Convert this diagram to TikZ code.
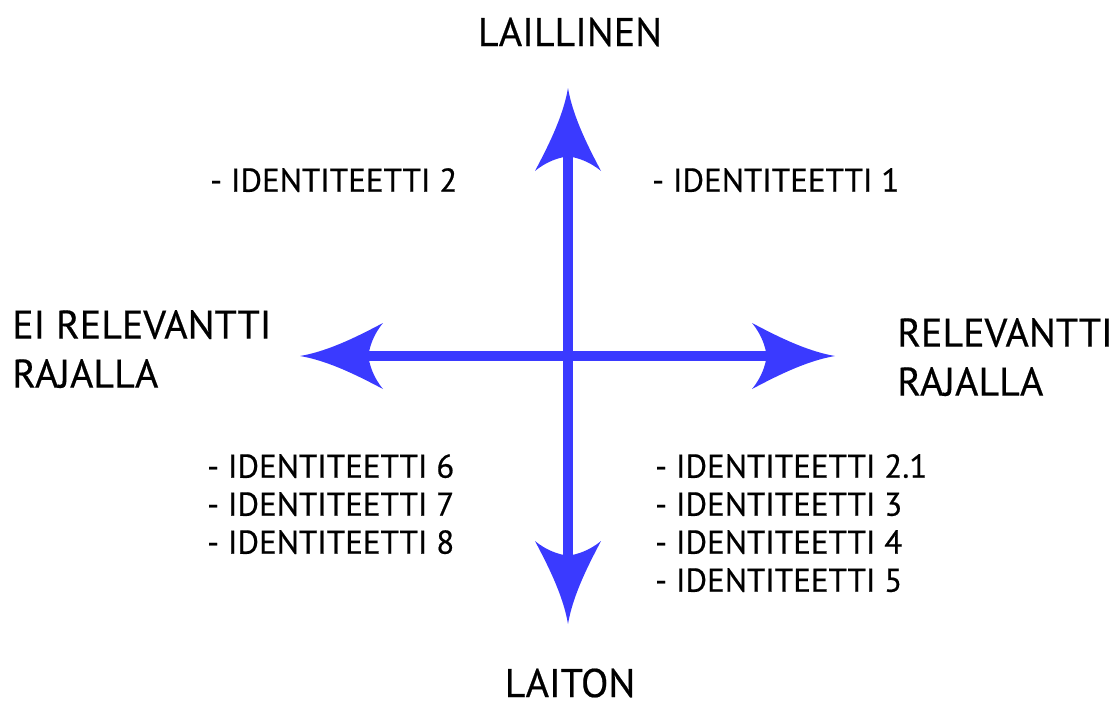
\documentclass[tikz,border=0pt]{standalone}
\usepackage{fontspec}
\setmainfont[FakeBold=0.5]{PT Sans}
\definecolor{axisblue}{RGB}{58,58,255}
\tikzset{
	axis/.style={axisblue, line width=10pt, shorten <=60pt, shorten >=60pt},
	head/.pic={
		\fill[axisblue] (0,0) .. controls (-30,5) and (-62,22) .. (-83,33)
			.. controls (-73,21) and (-70,9) .. (-69,4) -- (-69,-4)
			.. controls (-70,-9) and (-73,-21) .. (-83,-33)
			.. controls (-62,-22) and (-30,-5) .. (0,0) -- cycle;
	},
	pole/.style={inner sep=0pt, font=\fontsize{40}{49}\selectfont},
	entry/.style={inner sep=0pt, align=left, font=\fontsize{33}{38}\selectfont},
}
\begin{document}
\begin{tikzpicture}[x=1pt, y=-1pt]
	\useasboundingbox (0,0) rectangle (1115,707);
	% axes
	\coordinate (up) at (568,88);
	\coordinate (down) at (568,624);
	\coordinate (left) at (300,356);
	\coordinate (right) at (835,356);
	\draw[axis] (down) -- (up);
	\draw[axis] (left) -- (right);
	\pic[rotate=90] at (up) {head};
	\pic[rotate=270] at (down) {head};
	\pic[rotate=180] at (left) {head};
	\pic at (right) {head};
	% poles
	\node[pole, anchor=base] (legal) at (570,46) {LAILLINEN};
	\node[pole, anchor=base] (illegal) at (570,697) {LAITON};
	\node[pole, anchor=north west, align=left] (irrelevant) at (12,310) {EI RELEVANTTI\\RAJALLA};
	\node[pole, anchor=north west, align=left] (relevant) at (897,318) {RELEVANTTI\\RAJALLA};
	% quadrants
	\node[entry, anchor=north west] (q1) at (652,168) {- IDENTITEETTI 1};
	\node[entry, anchor=north west] (q2) at (210,168) {- IDENTITEETTI 2};
	\node[entry, anchor=north west] (q3) at (207,454) {- IDENTITEETTI 6\\- IDENTITEETTI 7\\- IDENTITEETTI 8};
	\node[entry, anchor=north west] (q4) at (655,454) {- IDENTITEETTI 2.1\\- IDENTITEETTI 3\\- IDENTITEETTI 4\\- IDENTITEETTI 5};
\end{tikzpicture}
\end{document}
